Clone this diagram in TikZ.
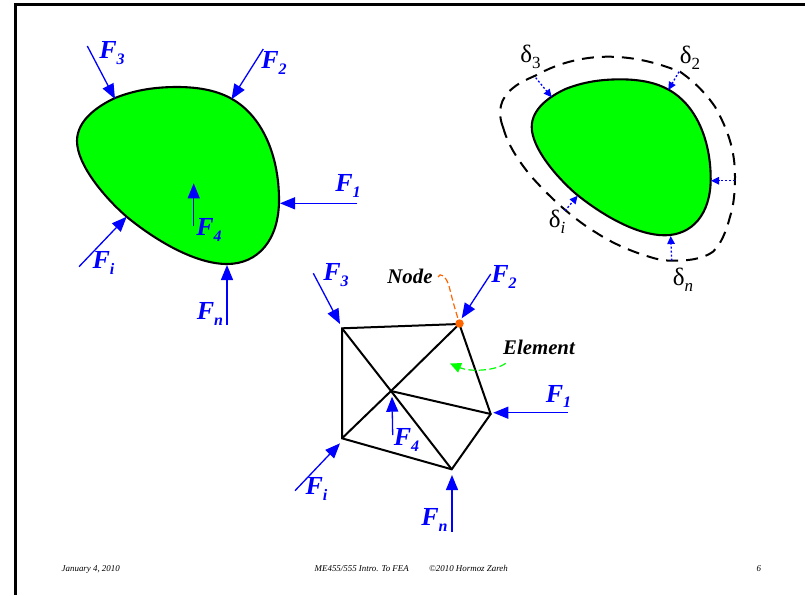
\documentclass[tikz,border=0pt]{standalone}
\usepackage{fontspec}
\setmainfont{Liberation Serif}
\usetikzlibrary{arrows.meta}
\definecolor{fblue}{RGB}{0,0,255}
\definecolor{fgreen}{RGB}{0,255,0}
\definecolor{forange}{RGB}{255,102,0}
\newcommand\FL[1]{F\raisebox{-.22em}{\fontsize{16}{16}\selectfont #1}}
\newcommand\DL[1]{δ\raisebox{-.25em}{\fontsize{17}{17}\selectfont #1}}
\tikzset{
  x=1pt,y=-1pt,
  force/.style={fblue,line width=1.3,-{Triangle[length=15pt,width=12pt]}},
  disp/.style={fblue,line width=1.3,dash pattern=on 2pt off 2pt,-{Triangle[length=8pt,width=7.5pt]}},
  flabel/.style={fblue,inner sep=0pt,font=\fontsize{26}{26}\selectfont\bfseries\itshape},
  dlabel/.style={black,inner sep=0pt,font=\fontsize{25}{25}\selectfont},
  blacklabel/.style={black,inner sep=0pt,font=\fontsize{20.8}{21}\selectfont\bfseries\itshape},
  foot/.style={black,inner sep=0pt,anchor=base west,font=\fontsize{8.9}{9}\selectfont\itshape},
  meshline/.style={black,line width=2,line join=miter},
  blobshape/.pic={
    \draw[fill=fgreen,draw=black,line width=2.1]
      (77,141) .. controls (77,120) and (98,106) .. (115,98)
      .. controls (135,90) and (155,87) .. (177,87)
      .. controls (200,87) and (218,91) .. (232,99)
      .. controls (262,116) and (279,155) .. (279,200)
      .. controls (279,240) and (258,264) .. (227,264)
      .. controls (195,264) and (155,240) .. (127,217)
      .. controls (105,198) and (77,165) .. (77,141) -- cycle;
  }
}
\begin{document}
\begin{tikzpicture}
\useasboundingbox (0,0) rectangle (805,595);
\fill[white] (0,0) rectangle (805,595);
% frame
\coordinate (fa) at (15.7,595);
\coordinate (fb) at (15.7,4.3);
\coordinate (fc) at (805,4.3);
\draw[black,line width=2.6,line join=miter] (fa) -- (fb) -- (fc);

% ---------- loaded body
\pic (bodyA) at (0,0) {blobshape};
\coordinate (a3s) at (87.3,46);    \coordinate (a3e) at (115,99);
\coordinate (a2s) at (263.3,49);   \coordinate (a2e) at (231.5,99.3);
\coordinate (a1s) at (357.3,203.3);\coordinate (a1e) at (280,203.3);
\coordinate (a4s) at (193.7,226);  \coordinate (a4e) at (193.7,183.3);
\coordinate (ais) at (79,266.7);   \coordinate (aie) at (126.7,216.7);
\coordinate (ans) at (227,325);    \coordinate (ane) at (227,265);
\draw[force] (a3s) -- (a3e);
\draw[force] (a2s) -- (a2e);
\draw[force] (a1s) -- (a1e);
\draw[force] (a4s) -- (a4e);
\draw[force] (ais) -- (aie);
\draw[force] (ans) -- (ane);
\node[flabel] (lA3) at (112,53) {\FL{3}};
\node[flabel] (lA2) at (274,63) {\FL{2}};
\node[flabel] (lA1) at (348,186) {\FL{1}};
\node[flabel] (lA4) at (209,230) {\FL{4}};
\node[flabel] (lAi) at (103.5,263) {\FL{i}};
\node[flabel] (lAn) at (210,314) {\FL{n}};

% ---------- deformed body
\draw[black,line width=2,dash pattern=on 12pt off 8pt]
  (503.3,128) .. controls (497,112) and (500,98) .. (513,88)
  .. controls (520,82) and (528,79) .. (536.7,75)
  .. controls (560,62) and (585,56.7) .. (608,56.7)
  .. controls (640,56.7) and (665,66) .. (680,71.7)
  .. controls (695,82) and (707,95) .. (715,106.7)
  .. controls (728,130) and (735,150) .. (735,176.7)
  .. controls (735,190) and (734,205) .. (730,216.7)
  .. controls (726,232) and (721,244) .. (713,251.7)
  .. controls (703,259) and (688,261) .. (670,260.7)
  .. controls (663,260.5) and (656,259) .. (650,257)
  .. controls (630,251) and (612,243) .. (596.7,233)
  .. controls (575,220) and (552,200) .. (530,175)
  .. controls (518,160) and (508,145) .. (503.3,128);
\pic[shift={(463.5,2.7)},xscale=.886,yscale=.881] (bodyB) at (0,0) {blobshape};
\coordinate (d3s) at (535.7,77.7);  \coordinate (d3e) at (551.7,97.3);
\coordinate (d2s) at (679,71.7);    \coordinate (d2e) at (668.3,90);
\coordinate (d1s) at (735,180.7);   \coordinate (d1e) at (711,180.7);
\coordinate (dis) at (565,210.7);   \coordinate (die) at (577.7,195.7);
\coordinate (dns) at (671.7,260.7); \coordinate (dne) at (670.7,236);
\draw[disp] (d3s) -- (d3e);
\draw[disp] (d2s) -- (d2e);
\draw[disp] (d1s) -- (d1e);
\draw[disp] (dis) -- (die);
\draw[disp] (dns) -- (dne);
\node[dlabel] (ld3) at (530.5,56.5) {\DL{3}};
\node[dlabel] (ld2) at (690,58) {\DL{2}};
\node[dlabel] (ldi) at (557,222) {\DL{\itshape i}};
\node[dlabel] (ldn) at (683,280) {\DL{\itshape n}};

% ---------- mesh
\coordinate (A) at (342,328.3);
\coordinate (B) at (459.3,324);
\coordinate (C) at (490.7,414);
\coordinate (D) at (451.7,469.3);
\coordinate (E) at (342,438.3);
\coordinate (O) at (391,391);
\draw[meshline] (A) -- (B) -- (C) -- (D) -- (E) -- cycle;
\draw[meshline] (A) -- (O) -- (D);
\draw[meshline] (B) -- (O) -- (E);
\draw[meshline] (O) -- (C);
\coordinate (b3s) at (313.3,273.3); \coordinate (b3e) at (340,324);
\coordinate (b2s) at (490.7,274);   \coordinate (b2e) at (461.7,318.3);
\coordinate (b1s) at (567.7,412.7); \coordinate (b1e) at (493.3,412.7);
\coordinate (b4s) at (392.7,435);   \coordinate (b4e) at (392,396.7);
\coordinate (bis) at (295,490.7);   \coordinate (bie) at (340,443.3);
\coordinate (bns) at (452,531.7);   \coordinate (bne) at (452,475);
\draw[force] (b3s) -- (b3e);
\draw[force] (b2s) -- (b2e);
\draw[force] (b1s) -- (b1e);
\draw[force] (b4s) -- (b4e);
\draw[force] (bis) -- (bie);
\draw[force] (bns) -- (bne);
\node[flabel] (lB3) at (336,275) {\FL{3}};
\node[flabel] (lB2) at (504,277) {\FL{2}};
\node[flabel] (lB1) at (558.5,396.5) {\FL{1}};
\node[flabel] (lB4) at (406.5,440) {\FL{4}};
\node[flabel] (lBi) at (316.5,489) {\FL{i}};
\node[flabel] (lBn) at (434.5,520) {\FL{n}};
% node marker
\node[blacklabel] (nodeT) at (410,276) {Node};
\node[circle,fill=forange,inner sep=0pt,minimum size=8.5pt] (nodeM) at (459.5,323.5) {};
\coordinate (nodeS) at (438,277);
\draw[forange,line width=1.2,dash pattern=on 6pt off 3pt]
  (nodeS) .. controls (440,272) and (446,276) .. (449,286)
  .. controls (452,298) and (454,306) .. (nodeM.center);
% element marker
\node[blacklabel] (elemT) at (539,347.7) {Element};
\coordinate (elemS) at (505.7,363.3);
\coordinate (elemE) at (450,363.5);
\draw[fgreen,line width=1.2,dash pattern=on 7pt off 3.5pt,-{Triangle[length=11pt,width=10pt]}]
  (elemS) .. controls (495,371) and (470,372) .. (elemE);

% ---------- footer
\node[foot] (f1) at (61.5,571) {January 4, 2010};
\node[foot] (f2) at (314.5,571) {ME455/555 Intro. To FEA};
\node[foot] (f3) at (429,571) {©2010 Hormoz Zareh};
\node[foot] (f4) at (756.5,571) {6};
\end{tikzpicture}
\end{document}
